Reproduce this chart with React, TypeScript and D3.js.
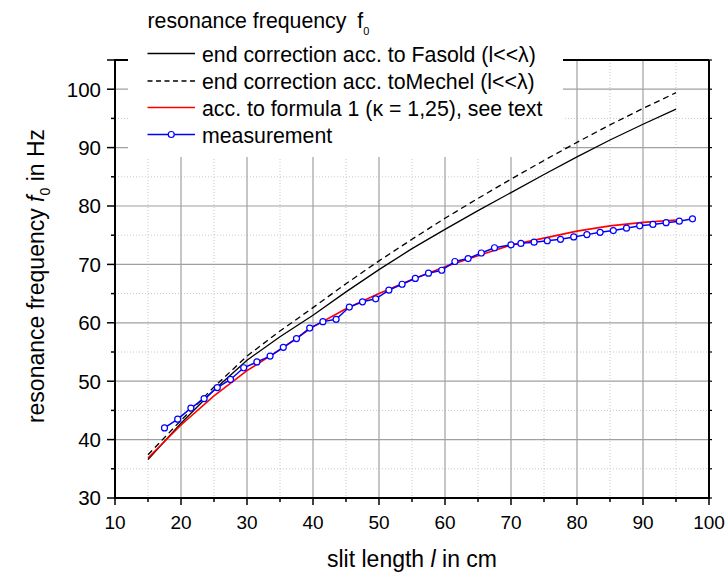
import React from "react";
import * as d3 from "d3";

const xMajorTicks = [10, 20, 30, 40, 50, 60, 70, 80, 90, 100];
const xMinorTicks = [15, 25, 35, 45, 55, 65, 75, 85, 95];
const yMajorTicks = [30, 40, 50, 60, 70, 80, 90, 100];
const yMinorTicks = [35, 45, 55, 65, 75, 85, 95, 105];

const modelX = [15, 20, 25, 30, 35, 40, 45, 50, 55, 60, 65, 70, 75, 80, 85, 90, 95];
const fasoldY = [36.6, 42.8, 48.5, 53.6, 57.6, 61.3, 65.3, 69.1, 72.7, 76.0, 79.2, 82.3, 85.4, 88.4, 91.3, 94.0, 96.6];
const mechelY = [37.4, 43.3, 49.0, 54.3, 58.6, 62.6, 66.7, 70.6, 74.3, 77.9, 81.3, 84.6, 87.8, 90.9, 93.9, 96.7, 99.4];
const formulaY = [36.85, 42.5, 47.5, 51.8, 55.4, 59.3, 62.4, 65.0, 67.4, 69.6, 71.5, 73.3, 74.5, 75.7, 76.6, 77.2, 77.6];

const measX = [17.5, 19.5, 21.5, 23.5, 25.5, 27.5, 29.5, 31.5, 33.5, 35.5, 37.5, 39.5, 41.5, 43.5, 45.5, 47.5, 49.5, 51.5, 53.5, 55.5, 57.5, 59.5, 61.5, 63.5, 65.5, 67.5, 70, 71.5, 73.5, 75.5, 77.5, 79.5, 81.5, 83.5, 85.5, 87.5, 89.5, 91.5, 93.5, 95.5, 97.5];
const measY = [42.0, 43.5, 45.4, 47.0, 48.9, 50.3, 52.3, 53.3, 54.3, 55.8, 57.3, 59.1, 60.2, 60.6, 62.7, 63.6, 64.1, 65.6, 66.6, 67.6, 68.5, 69.0, 70.5, 71.0, 71.95, 72.85, 73.35, 73.6, 73.8, 74.05, 74.3, 74.7, 75.1, 75.5, 75.8, 76.2, 76.6, 76.85, 77.15, 77.4, 77.8];

const FONT = "'Liberation Sans', Arial, Helvetica, sans-serif";

export default function App() {
  const L = 115, R = 709, T = 60, B = 498;
  const x = d3.scaleLinear().domain([10, 100]).range([L, R]);
  const y = d3.scaleLinear().domain([30, 105]).range([B, T]);
  const line = d3.line<[number, number]>().x((d) => x(d[0])).y((d) => y(d[1]));
  const zip = (xs: number[], ys: number[]) => xs.map((v, i) => [v, ys[i]] as [number, number]);

  const legendX0 = 147.5, legendX1 = 195, legendTextX = 202;
  const rows = [53.5, 81, 107.5, 134.5];
  const LF = 21.3;

  return (
    <svg width={727} height={572} style={{ position: "absolute", left: 0, top: 0, background: "#fff" }} fontFamily={FONT}>
      <rect x={0} y={0} width={727} height={572} fill="#fff" />
      {/* grid */}
      {xMinorTicks.map((t) => (
        <line key={"gxm" + t} x1={x(t)} x2={x(t)} y1={T} y2={B} stroke="#c8c8c8" strokeWidth={1} strokeDasharray="1,2" />
      ))}
      {yMinorTicks.filter((t) => t < 105).map((t) => (
        <line key={"gym" + t} x1={L} x2={R} y1={y(t)} y2={y(t)} stroke="#c8c8c8" strokeWidth={1} strokeDasharray="1,2" />
      ))}
      {xMajorTicks.filter((t) => t > 10 && t < 100).map((t) => (
        <line key={"gx" + t} x1={x(t)} x2={x(t)} y1={T} y2={B} stroke="#a0a0a0" strokeWidth={1.2} />
      ))}
      {yMajorTicks.filter((t) => t > 30).map((t) => (
        <line key={"gy" + t} x1={L} x2={R} y1={y(t)} y2={y(t)} stroke="#a0a0a0" strokeWidth={1.2} />
      ))}
      {/* frame */}
      <line x1={L} x2={R} y1={T} y2={T} stroke="#000" strokeWidth={2} />
      <line x1={R} x2={R} y1={T} y2={B} stroke="#000" strokeWidth={2} />
      {/* legend background */}
      <rect x={128} y={0} width={435} height={157} fill="#fff" />
      <line x1={L} x2={L} y1={T - 1} y2={B + 1} stroke="#000" strokeWidth={2} />
      <line x1={L - 1} x2={R + 1} y1={B} y2={B} stroke="#000" strokeWidth={2} />
      {/* ticks bottom */}
      {xMajorTicks.map((t) => (
        <g key={"xt" + t}>
          <line x1={x(t)} x2={x(t)} y1={B} y2={B + 7} stroke="#000" strokeWidth={1.5} />
          <text x={x(t)} y={529} textAnchor="middle" fontSize={19} fill="#000">{t}</text>
        </g>
      ))}
      {xMinorTicks.map((t) => (
        <line key={"xmt" + t} x1={x(t)} x2={x(t)} y1={B} y2={B + 4} stroke="#000" strokeWidth={1.5} />
      ))}
      {/* ticks left */}
      {yMajorTicks.map((t) => (
        <g key={"yt" + t}>
          <line x1={L - 8} x2={L} y1={y(t)} y2={y(t)} stroke="#000" strokeWidth={1.5} />
          <text x={101} y={y(t)} dy="0.36em" textAnchor="end" fontSize={20.5} fill="#000">{t}</text>
        </g>
      ))}
      {yMinorTicks.map((t) => (
        <line key={"ymt" + t} x1={t === 105 ? L - 8 : L - 4} x2={L} y1={y(t)} y2={y(t)} stroke="#000" strokeWidth={1.5} />
      ))}
      {/* ticks right */}
      {[...yMajorTicks, ...yMinorTicks].map((t) => (
        <line key={"yr" + t} x1={R} x2={R + 3} y1={y(t)} y2={y(t)} stroke="#000" strokeWidth={1.2} />
      ))}
      {/* data */}
      <path d={line(zip(modelX, fasoldY)) || ""} fill="none" stroke="#000" strokeWidth={1.3} />
      <path d={line(zip(modelX, mechelY)) || ""} fill="none" stroke="#000" strokeWidth={1.3} strokeDasharray="6,4" />
      <path d={line(zip(modelX, formulaY)) || ""} fill="none" stroke="#ff0000" strokeWidth={1.6} />
      <path d={line(zip(measX, measY)) || ""} fill="none" stroke="#0000ff" strokeWidth={1.5} />
      {measX.map((v, i) => (
        <circle key={"m" + i} cx={x(v)} cy={y(measY[i])} r={3} fill="#fff" stroke="#0000ff" strokeWidth={1.2} />
      ))}
      {/* legend */}
      <text x={147.5} y={28.3} fontSize={LF} fill="#000">
        resonance frequency <tspan dx={5}>f</tspan><tspan fontSize={11} dy={6.5}>0</tspan>
      </text>
      <line x1={legendX0} x2={legendX1} y1={rows[0]} y2={rows[0]} stroke="#000" strokeWidth={1.3} />
      <text x={legendTextX} y={rows[0] + 8} fontSize={LF} fill="#000">end correction acc. to Fasold (l&lt;&lt;λ)</text>
      <line x1={legendX0} x2={legendX1} y1={rows[1]} y2={rows[1]} stroke="#000" strokeWidth={1.3} strokeDasharray="5,3.5" />
      <text x={legendTextX} y={rows[1] + 8} fontSize={LF} fill="#000">end correction acc. toMechel (l&lt;&lt;λ)</text>
      <line x1={legendX0} x2={legendX1} y1={rows[2]} y2={rows[2]} stroke="#ff0000" strokeWidth={1.6} />
      <text x={legendTextX} y={rows[2] + 8} fontSize={LF} fill="#000">acc. to formula 1 (κ = 1,25), see text</text>
      <line x1={legendX0} x2={legendX1} y1={rows[3]} y2={rows[3]} stroke="#0000ff" strokeWidth={1.5} />
      <circle cx={(legendX0 + legendX1) / 2} cy={rows[3]} r={3} fill="#fff" stroke="#0000ff" strokeWidth={1.2} />
      <text x={legendTextX} y={rows[3] + 8} fontSize={LF} fill="#000">measurement</text>
      {/* axis titles */}
      <text x={412} y={567} textAnchor="middle" fontSize={23} fill="#000">
        slit length <tspan fontStyle="italic">l</tspan> in cm
      </text>
      <text transform="translate(44,276) rotate(-90)" textAnchor="middle" fontSize={23} fill="#000">
        resonance frequency <tspan fontStyle="italic">f</tspan><tspan fontSize={14} dy={6}>0</tspan><tspan dy={-6}> in Hz</tspan>
      </text>
    </svg>
  );
}
